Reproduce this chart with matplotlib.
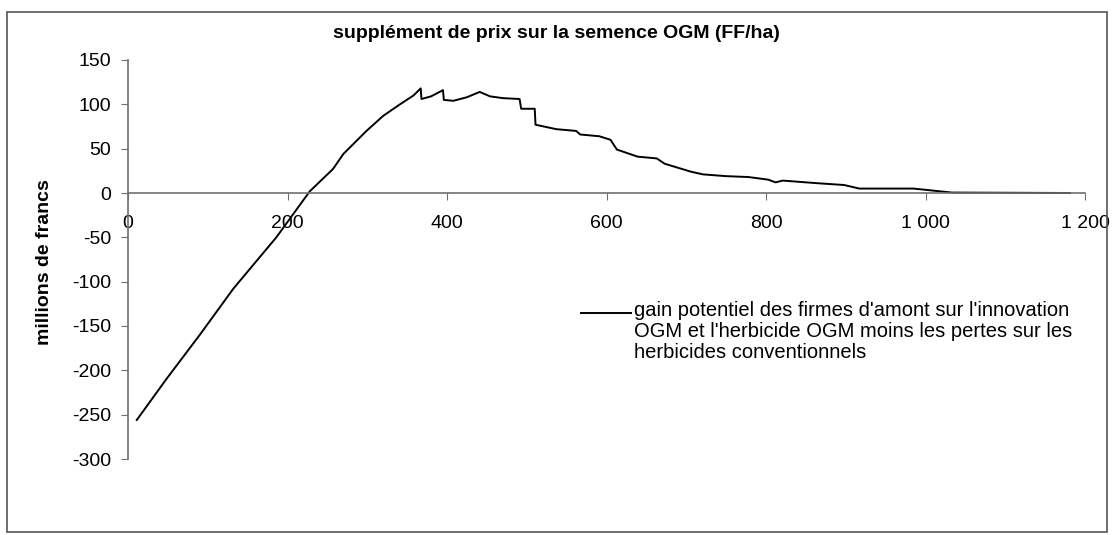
import numpy as np
import matplotlib
matplotlib.use("Agg")
import matplotlib.pyplot as plt
from matplotlib.lines import Line2D
from matplotlib.patches import Rectangle
from matplotlib.ticker import FuncFormatter

# --- données ---
x_ha = [11, 48, 90, 132, 186, 228, 257, 270, 299, 320, 341, 358, 367, 368,
        380, 395, 396, 408, 425, 441, 454, 470, 491, 493, 510, 511, 537, 562,
        567, 591, 605, 613, 639, 663, 673, 706, 721, 750, 778, 803, 812, 821,
        865, 898, 917, 985, 1033, 1181]
gain = [-256, -210, -160, -108, -50, 2, 27, 44, 70, 87, 100, 110, 118, 106,
        109, 116, 105, 104, 108, 114, 109, 107, 106, 95, 95, 77, 72, 70,
        66, 64, 60, 49, 41, 39, 33, 24, 21, 19, 18, 15, 12, 14,
        11, 9, 5, 5, 0.5, 0]

x_ticks = [0, 200, 400, 600, 800, 1000, 1200]
y_ticks = [150, 100, 50, 0, -50, -100, -150, -200, -250, -300]

titre = "supplément de prix sur la semence OGM (FF/ha)"
label_y = "millions de francs"
legende = ("gain potentiel des firmes d'amont sur l'innovation\n"
           "OGM et l'herbicide OGM moins les pertes sur les\n"
           "herbicides conventionnels")

plt.rcParams['font.family'] = ['Liberation Sans', 'DejaVu Sans']
plt.rcParams['axes.unicode_minus'] = False

W, H = 1112, 535
fig = plt.figure(figsize=(W / 100, H / 100), dpi=100)
ax = fig.add_axes([128 / W, 1 - 459 / H, (1085 - 128) / W, (459 - 60) / H])

ax.plot(x_ha, gain, color='black', lw=1.4)

ax.set_xlim(0, 1200)
ax.set_ylim(-300, 150)
ax.set_xticks(x_ticks)
ax.set_yticks(y_ticks)
ax.xaxis.set_major_formatter(FuncFormatter(lambda v, p: f"{int(v):,}".replace(",", " ")))

# axes façon Excel : axe des x sur le zéro
gris = '#707070'
for s in ['top', 'right']:
    ax.spines[s].set_visible(False)
ax.spines['bottom'].set_position(('data', 0))
ax.spines['bottom'].set_color(gris)
ax.spines['left'].set_color(gris)
ax.spines['bottom'].set_linewidth(1.2)
ax.spines['left'].set_linewidth(1.2)
ax.tick_params(axis='x', direction='out', length=5, color=gris, pad=11, labelsize=14)
ax.tick_params(axis='y', direction='out', length=5, color=gris, pad=7, labelsize=14)

fig.text(556 / W, 1 - 33 / H, titre, ha='center', va='center',
         fontsize=14, fontweight='bold')
fig.text(45 / W, 1 - 262 / H, label_y, ha='center', va='center',
         rotation=90, fontsize=14, fontweight='bold')

# légende manuelle
fig.add_artist(Line2D([581 / W, 631 / W], [1 - 313 / H, 1 - 313 / H],
                      color='black', lw=1.4))
fig.text(634 / W, 1 - 301 / H, legende, ha='left', va='top',
         fontsize=14.5, linespacing=1.15, transform=fig.transFigure)

# cadre du graphique
fig.add_artist(Rectangle((7 / W, 1 - 532 / H), (1107 - 7) / W, (532 - 12) / H,
                         transform=fig.transFigure, fill=False,
                         edgecolor='#555555', lw=1.2))

fig.savefig("out.png", dpi=100)
